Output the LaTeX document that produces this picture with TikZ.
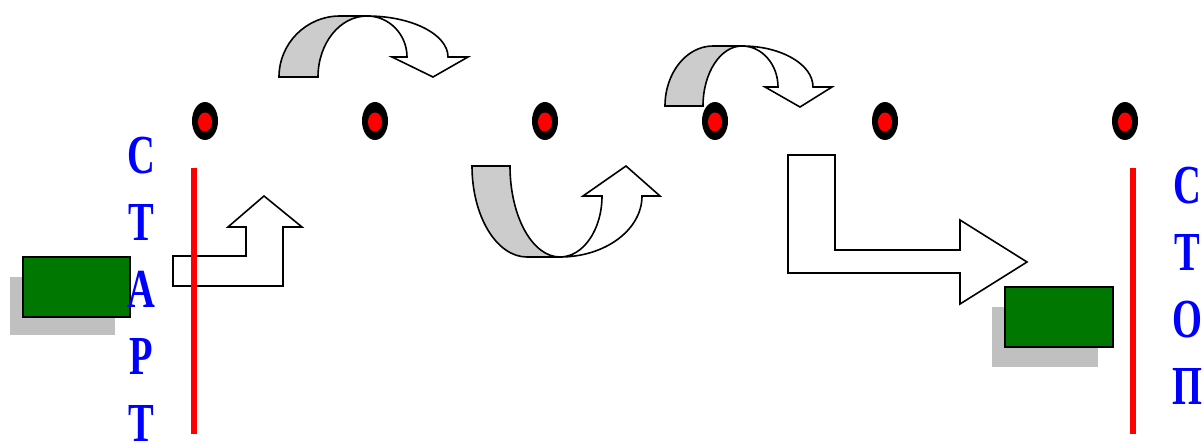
\documentclass[tikz,border=0pt]{standalone}
\usepackage{fontspec}
\newfontfamily\cyrserif{Liberation Serif}
\definecolor{boxgreen}{RGB}{0,120,0}
\definecolor{shadowgray}{RGB}{192,192,192}

\begin{document}
\begin{tikzpicture}[x=1pt, y=-1pt,
    frontband/.style={draw=black, line width=1.6pt, fill=white},
    backband/.style={draw=black, line width=1.6pt, fill=gray!40},
    redline/.style={draw=red, line width=6pt},
    greenbox/.style={draw=black, line width=1.6pt, fill=boxgreen},
    word/.style={text=blue, font=\cyrserif\bfseries\fontsize{55}{67}\selectfont,
        align=center, inner sep=0pt, anchor=north}]
        \useasboundingbox (0,0) rectangle (1204,447);

        % 点
        \foreach \x in {205,375,545,715,885,1125} {
            \fill[black] (\x,121) ellipse (13 and 19);
            \fill[red] (\x,122) ellipse (7 and 9.5);
        }

        % 上面的弯箭头
        \draw[backband] (279,77) arc[start angle=180, end angle=270, x radius=61, y radius=61]
            -- (367,16) arc[start angle=270, end angle=180, x radius=49, y radius=61] -- cycle;
        \draw[frontband] (367,16) arc[start angle=270, end angle=360, x radius=81, y radius=41]
            -- (468,57) -- (433,77) -- (392,57) -- (407,57)
            arc[start angle=360, end angle=270, x radius=40, y radius=41] -- cycle;

        \draw[backband] (665,106) arc[start angle=180, end angle=270, x radius=48, y radius=60]
            -- (742,46) arc[start angle=270, end angle=180, x radius=39, y radius=60] -- cycle;
        \draw[frontband] (742,46) arc[start angle=270, end angle=360, x radius=71, y radius=41]
            -- (832,87) -- (800,107) -- (765,87) -- (778,87)
            arc[start angle=360, end angle=270, x radius=36, y radius=41] -- cycle;

        % 下面的弯箭头
        \draw[backband] (472,166) arc[start angle=180, end angle=90, x radius=55, y radius=91]
            -- (560,257) arc[start angle=90, end angle=180, x radius=50, y radius=91] -- cycle;
        \draw[frontband] (560,257) arc[start angle=90, end angle=0, x radius=82, y radius=61]
            -- (660,196) -- (626,166) -- (583,196) -- (602,196)
            arc[start angle=0, end angle=90, x radius=42, y radius=61] -- cycle;

        % 折箭头
        \draw[frontband] (173,256) -- (246,256) -- (246,227) -- (228,227) -- (264,196)
            -- (302,227) -- (283,227) -- (283,286) -- (173,286) -- cycle;
        \draw[frontband] (788,155) -- (835,155) -- (835,250) -- (960,250) -- (960,220)
            -- (1027,262) -- (960,304) -- (960,273) -- (788,273) -- cycle;

        % 方块和阴影
        \fill[shadowgray] (10,277) rectangle (115,335);
        \draw[greenbox] (23,257) rectangle (130,317);
        \fill[shadowgray] (992,307) rectangle (1098,367);
        \draw[greenbox] (1005,287) rectangle (1113,347);

        % 起点线和终点线
        \draw[redline] (194,168) -- (194,434);
        \draw[redline] (1133,168) -- (1133,434);

        % 竖排的字
        \begin{scope}[shift={(141,137)}, xscale=0.7, transform shape]
            \node[word] (start) at (0,0) {С\\Т\\А\\Р\\Т};
        \end{scope}
        \begin{scope}[shift={(1187,167)}, xscale=0.7, transform shape]
            \node[word] (stop) at (0,0) {С\\Т\\О\\П};
        \end{scope}

    \end{tikzpicture}
\end{document}
